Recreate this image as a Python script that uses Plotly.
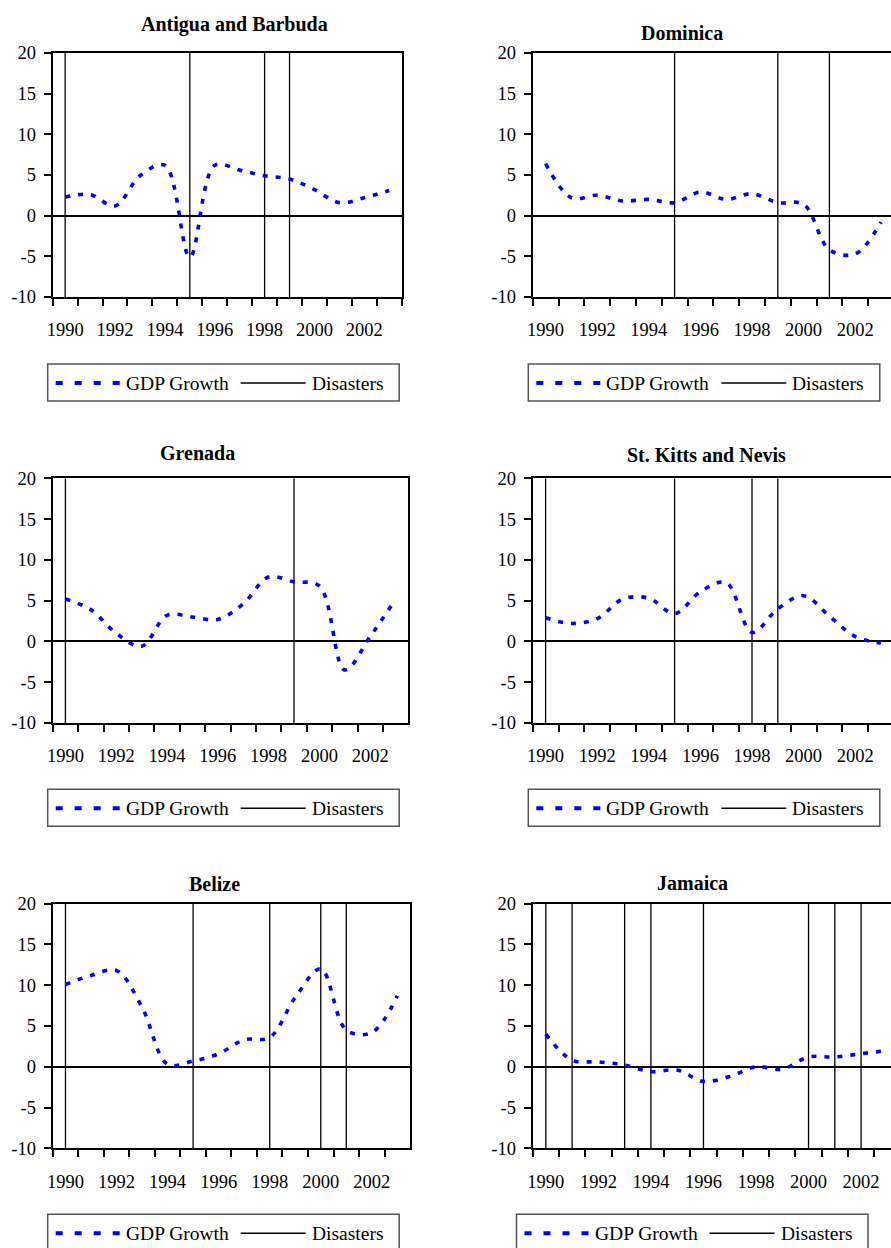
import plotly.graph_objects as go

# ---------------------------------------------------------------------------
# Data: real GDP growth (%) and years with a recorded natural disaster
# ---------------------------------------------------------------------------
YEARS = list(range(1990, 2004))
YEAR_LABELS = [1990, 1992, 1994, 1996, 1998, 2000, 2002]
Y_TICKS = [-10, -5, 0, 5, 10, 15, 20]

COUNTRIES = ["Antigua and Barbuda", "Dominica", "Grenada",
             "St. Kitts and Nevis", "Belize", "Jamaica"]

gdp_antigua = [2.3, 2.6, 1.2, 4.9, 6.2, -5.1, 6.2, 5.6, 4.9, 4.5, 3.2, 1.6, 2.2, 3.1]
gdp_dominica = [6.4, 2.2, 2.5, 1.8, 2.0, 1.6, 2.9, 2.0, 2.7, 1.6, 1.4, -4.2, -4.7, -0.8]
gdp_grenada = [5.2, 3.9, 1.0, -0.6, 3.2, 3.0, 2.7, 4.6, 7.9, 7.3, 6.8, -3.5, 0.6, 5.2]
gdp_stkitts = [2.9, 2.2, 2.8, 5.2, 5.3, 3.4, 6.1, 7.2, 1.1, 4.0, 5.6, 3.1, 0.6, -0.2]
gdp_belize = [10.1, 11.2, 11.8, 7.3, 0.3, 0.7, 1.6, 3.3, 3.6, 8.5, 12.0, 4.5, 4.2, 8.7]
gdp_jamaica = [4.0, 0.8, 0.6, 0.2, -0.6, -0.4, -1.8, -1.2, 0.0, -0.3, 1.2, 1.2, 1.6, 2.0]

dis_antigua = [1990, 1995, 1998, 1999]
dis_dominica = [1995, 1999, 2001]
dis_grenada = [1990, 1999]
dis_stkitts = [1990, 1995, 1998, 1999]
dis_belize = [1990, 1995, 1998, 2000, 2001]
dis_jamaica = [1990, 1991, 1993, 1994, 1996, 2000, 2001, 2002]

GDP_SERIES = [gdp_antigua, gdp_dominica, gdp_grenada, gdp_stkitts, gdp_belize, gdp_jamaica]
DISASTERS = [dis_antigua, dis_dominica, dis_grenada, dis_stkitts, dis_belize, dis_jamaica]

# ---------------------------------------------------------------------------
# Page geometry (pixels)
# ---------------------------------------------------------------------------
W, H = 891, 1248
FONT = "Liberation Serif, Times New Roman, serif"

# plot boxes: left, top, right, bottom, width of one year slot
PLOT_BOX = [
    (52.7, 53.0, 402.0, 297.0, 24.93),
    (532.7, 53.0, 891.0, 297.0, 25.8),
    (52.7, 478.3, 408.0, 723.0, 25.4),
    (532.7, 478.3, 891.0, 723.0, 25.8),
    (52.7, 903.7, 410.0, 1148.3, 25.53),
    (532.7, 903.7, 891.0, 1148.3, 26.27),
]
TITLE_POS = [(234, 24), (682, 33), (197, 453), (706, 455), (214, 884), (692, 883)]
LEGEND_POS = [(47.7, 364), (528.3, 364), (47.7, 789.3), (528.3, 789.3),
              (47.7, 1214.3), (516.5, 1214.3)]
LEGEND_W, LEGEND_H = 351.5, 37.0


def fx(px):
    return px / W


def fy(py):
    return 1 - py / H


fig = go.Figure()
layout = dict(
    template="none",
    width=W, height=H, autosize=False,
    margin=dict(l=0, r=0, t=0, b=0, pad=0, autoexpand=False),
    paper_bgcolor="white", plot_bgcolor="white",
    showlegend=False,
    font=dict(family=FONT, size=18, color="black"),
)
shapes, annotations = [], []

for i, (name, gdp, dis) in enumerate(zip(COUNTRIES, GDP_SERIES, DISASTERS)):
    suffix = "" if i == 0 else str(i + 1)
    xa, ya = "x" + suffix, "y" + suffix
    left, top, right, bottom, slot = PLOT_BOX[i]
    left_col = i % 2 == 0

    # vertical disaster markers spanning the whole value axis
    dx, dy = [], []
    for yr in dis:
        dx += [yr, yr, None]
        dy += [Y_TICKS[0], Y_TICKS[-1], None]
    fig.add_trace(go.Scatter(
        x=dx, y=dy, mode="lines", name="Disasters",
        line=dict(color="black", width=1.3),
        xaxis=xa, yaxis=ya, hoverinfo="skip"))

    fig.add_trace(go.Scatter(
        x=YEARS, y=gdp, mode="lines", name="GDP Growth",
        line=dict(color="#0000FF", width=3.6, dash="5px,8px",
                  shape="spline", smoothing=1.0),
        xaxis=xa, yaxis=ya))

    x_end = 1989.5 + (right - left) / slot
    layout["xaxis" + suffix] = dict(
        domain=[fx(left), fx(right)], range=[1989.5, x_end], anchor=ya,
        automargin=False,
        tickmode="array", tickvals=YEAR_LABELS,
        ticktext=[str(v) for v in YEAR_LABELS], ticks="",
        ticklabelstandoff=15,
        minor=dict(tick0=1989.5, dtick=1, ticks="outside", ticklen=7,
                   tickwidth=1.5, tickcolor="black"),
        showline=True, linecolor="black", linewidth=2, mirror=True,
        showgrid=False, zeroline=False,
        tickfont=dict(family=FONT, size=18.5, color="black"),
    )
    layout["yaxis" + suffix] = dict(
        domain=[fy(bottom), fy(top)], range=[Y_TICKS[0], Y_TICKS[-1]], anchor=xa,
        automargin=False,
        tickmode="array", tickvals=Y_TICKS, ticktext=[str(v) for v in Y_TICKS],
        ticks="outside", ticklen=7,
        tickwidth=1.5, tickcolor="black", ticklabelstandoff=4,
        showline=True, linecolor="black", linewidth=2, mirror=left_col,
        showgrid=False, zeroline=True, zerolinecolor="black", zerolinewidth=1.5,
        tickfont=dict(family=FONT, size=18.5, color="black"),
    )

    tx, ty = TITLE_POS[i]
    annotations.append(dict(
        text="<b>%s</b>" % name, x=fx(tx), y=fy(ty), xref="paper", yref="paper",
        xanchor="center", yanchor="middle", showarrow=False,
        font=dict(family=FONT, size=20, color="black")))

    # legend box below each panel
    lx, ly = LEGEND_POS[i]
    cy = ly + LEGEND_H / 2 + 0.5
    shapes.append(dict(type="rect", xref="paper", yref="paper",
                       x0=fx(lx), x1=fx(lx + LEGEND_W), y0=fy(ly), y1=fy(ly + LEGEND_H),
                       line=dict(color="#555555", width=1.5), fillcolor="white", layer="below"))
    shapes.append(dict(type="line", xref="paper", yref="paper",
                       x0=fx(lx + 8), x1=fx(lx + 73), y0=fy(cy), y1=fy(cy),
                       line=dict(color="#0000FF", width=4, dash="7px,12px")))
    shapes.append(dict(type="line", xref="paper", yref="paper",
                       x0=fx(lx + 193), x1=fx(lx + 258), y0=fy(cy), y1=fy(cy),
                       line=dict(color="black", width=1.5)))
    annotations.append(dict(
        text="GDP Growth", x=fx(lx + 76), y=fy(cy), xref="paper", yref="paper",
        xanchor="left", yanchor="middle", showarrow=False,
        font=dict(family=FONT, size=19.5, color="black")))
    annotations.append(dict(
        text="Disasters", x=fx(lx + 262), y=fy(cy), xref="paper", yref="paper",
        xanchor="left", yanchor="middle", showarrow=False,
        font=dict(family=FONT, size=19.5, color="black")))

layout["shapes"] = shapes
layout["annotations"] = annotations
fig.update_layout(**layout)
fig.write_html("out.html")
